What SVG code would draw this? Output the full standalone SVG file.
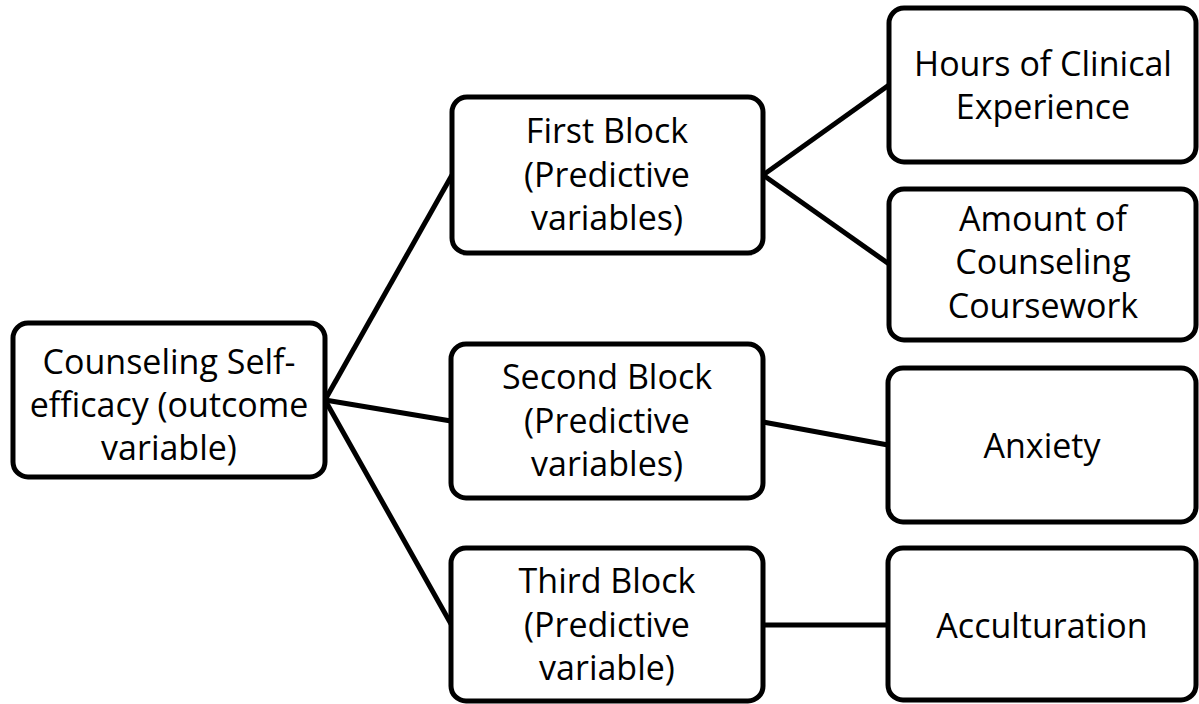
<svg xmlns="http://www.w3.org/2000/svg" width="1199" height="704" viewBox="0 0 1199 704">
<style>
.box{fill:#fff;stroke:#000;stroke-width:5}
.lbl{font-family:"Open Sans","Liberation Sans",sans-serif;font-size:34px;fill:#000;text-anchor:middle}
.conn line{stroke:#000;stroke-width:5}
</style>
<rect width="1199" height="704" fill="#fff"/>
<g class="conn" id="connectors">
<line x1="325" y1="400" x2="452" y2="175"/>
<line x1="325" y1="400" x2="451" y2="421"/>
<line x1="325" y1="400" x2="451" y2="624"/>
<line x1="763" y1="175" x2="889" y2="85"/>
<line x1="763" y1="175" x2="889" y2="264"/>
<line x1="763" y1="422" x2="888" y2="445"/>
<line x1="763" y1="625" x2="888" y2="625"/>
</g>
<g id="n_root"><rect class="box" x="13" y="323" width="312" height="154" rx="15"/>
<text class="lbl" x="169" y="374">Counseling Self-</text><text class="lbl" x="169" y="417">efficacy (outcome</text><text class="lbl" x="169" y="460">variable)</text></g>
<g id="n_first"><rect class="box" x="452" y="97" width="311" height="156" rx="15"/>
<text class="lbl" x="607" y="143">First Block</text><text class="lbl" x="607" y="187">(Predictive</text><text class="lbl" x="607" y="230">variables)</text></g>
<g id="n_second"><rect class="box" x="451" y="344" width="312" height="154" rx="15"/>
<text class="lbl" x="607" y="389">Second Block</text><text class="lbl" x="607" y="433">(Predictive</text><text class="lbl" x="607" y="476">variables)</text></g>
<g id="n_third"><rect class="box" x="451" y="548" width="312" height="153" rx="15"/>
<text class="lbl" x="607" y="593">Third Block</text><text class="lbl" x="607" y="637">(Predictive</text><text class="lbl" x="607" y="680">variable)</text></g>
<g id="n_hours"><rect class="box" x="889" y="8" width="307" height="154" rx="15"/>
<text class="lbl" x="1043" y="76">Hours of Clinical</text><text class="lbl" x="1043" y="119">Experience</text></g>
<g id="n_amount"><rect class="box" x="889" y="189" width="307" height="151" rx="15"/>
<text class="lbl" x="1043" y="231">Amount of</text><text class="lbl" x="1043" y="274">Counseling</text><text class="lbl" x="1043" y="318">Coursework</text></g>
<g id="n_anxiety"><rect class="box" x="888" y="368" width="308" height="154" rx="15"/>
<text class="lbl" x="1042" y="458">Anxiety</text></g>
<g id="n_accult"><rect class="box" x="888" y="548" width="308" height="152" rx="15"/>
<text class="lbl" x="1042" y="638">Acculturation</text></g>
</svg>
